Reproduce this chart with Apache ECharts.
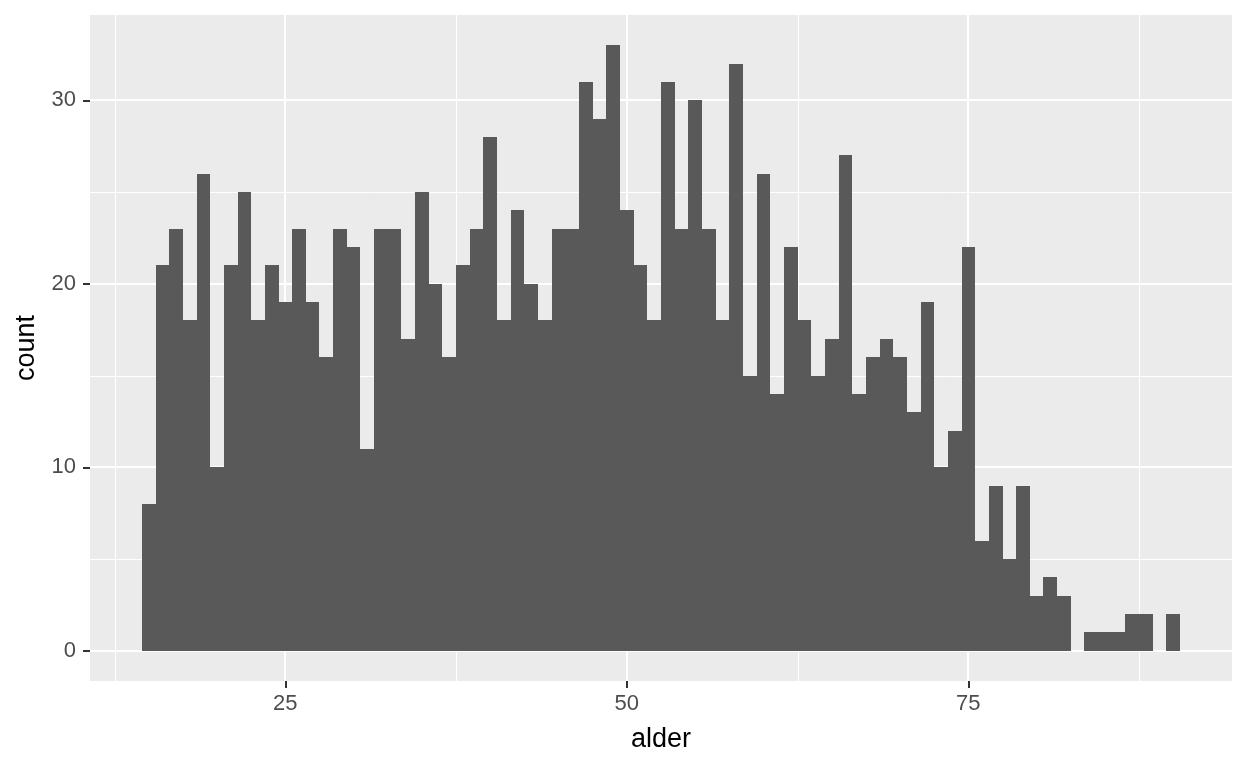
<!DOCTYPE html>
<html>
<head>
<meta charset="utf-8">
<script src="https://cdn.jsdelivr.net/npm/echarts@6/dist/echarts.min.js"></script>
<style>
  html, body { margin: 0; padding: 0; background: #ffffff; }
  #chart { width: 1248px; height: 768px; }
</style>
</head>
<body>
<div id="chart"></div>
<script>
// Bin centres (age, "alder") and counts
const ages = [15,16,17,18,19,20,21,22,23,24,25,26,27,28,29,30,31,32,33,34,35,36,37,38,39,40,
  41,42,43,44,45,46,47,48,49,50,51,52,53,54,55,56,57,58,59,60,61,62,63,64,65,66,67,68,69,70,
  71,72,73,74,75,76,77,78,79,80,81,82,83,84,85,86,87,88,89,90];
const counts = [8,21,23,18,26,10,21,25,18,21,19,23,19,16,23,22,11,23,23,17,25,20,16,21,23,28,
  18,24,20,18,23,23,31,29,33,24,21,18,31,23,30,23,18,32,15,26,14,22,18,15,17,27,14,16,17,16,
  13,19,10,12,22,6,9,5,9,3,4,3,0,1,1,1,2,2,0,2];
const binWidth = 1;

const xTicks = [25, 50, 75];
const xMinor = [12.5, 37.5, 62.5, 87.5];
const yTicks = [0, 10, 20, 30];
const yMinor = [5, 15, 25];

const xMin = 10.7, xMax = 94.3;
const yMin = -1.65, yMax = 34.65;

const chart = echarts.init(document.getElementById('chart'), null, { renderer: 'canvas' });

// grid line specs: [orientation (0 = vertical at x value, 1 = horizontal at y value), value, major flag]
const gridSpec = [];
xMinor.forEach(v => gridSpec.push([0, v, 0]));
yMinor.forEach(v => gridSpec.push([1, v, 0]));
xTicks.forEach(v => gridSpec.push([0, v, 1]));
yTicks.forEach(v => gridSpec.push([1, v, 1]));

const font = '"Liberation Sans", Arial, Helvetica, sans-serif';

chart.setOption({
  animation: false,
  backgroundColor: '#ffffff',
  grid: {
    left: 90, right: 16, top: 15, bottom: 87,
    show: true, backgroundColor: '#EBEBEB', borderWidth: 0,
    containLabel: false
  },
  xAxis: {
    type: 'value',
    min: xMin, max: xMax,
    name: 'alder',
    nameLocation: 'middle',
    nameGap: 45,
    nameTextStyle: { color: '#000000', fontSize: 27, fontFamily: font },
    axisLine: { show: false, onZero: false },
    axisTick: { show: true, length: 7, lineStyle: { color: '#333333', width: 2 }, customValues: xTicks },
    axisLabel: { show: true, color: '#4D4D4D', fontSize: 22, fontFamily: font, margin: 12, customValues: xTicks },
    splitLine: { show: false },
    minorSplitLine: { show: false }
  },
  yAxis: {
    type: 'value',
    min: yMin, max: yMax,
    name: 'count',
    nameLocation: 'middle',
    nameGap: 50,
    nameRotate: 90,
    nameTextStyle: { color: '#000000', fontSize: 27, fontFamily: font },
    axisLine: { show: false, onZero: false },
    axisTick: { show: true, length: 7, lineStyle: { color: '#333333', width: 2 }, customValues: yTicks },
    axisLabel: { show: true, color: '#4D4D4D', fontSize: 22, fontFamily: font, margin: 14, customValues: yTicks },
    splitLine: { show: false },
    minorSplitLine: { show: false }
  },
  series: [
    {
      type: 'custom',
      z: 1,
      silent: true,
      data: gridSpec,
      encode: { x: 1, y: 1 },
      renderItem: function (params, api) {
        const cs = params.coordSys;
        const orient = api.value(0), v = api.value(1), major = api.value(2);
        const w = major ? 2 : 1;
        if (orient === 0) {
          let px = Math.round(api.coord([v, 0])[0]);
          if (!major) px += 0.5;
          return { type: 'line', shape: { x1: px, y1: cs.y, x2: px, y2: cs.y + cs.height },
                   style: { stroke: '#ffffff', lineWidth: w } };
        } else {
          let py = Math.round(api.coord([xMin, v])[1]);
          if (!major) py += 0.5;
          return { type: 'line', shape: { x1: cs.x, y1: py, x2: cs.x + cs.width, y2: py },
                   style: { stroke: '#ffffff', lineWidth: w } };
        }
      }
    },
    {
      type: 'custom',
      z: 3,
      data: ages.map((a, i) => [a, counts[i]]),
      renderItem: function (params, api) {
        const x = api.value(0), c = api.value(1);
        if (!c) return null;
        const p0 = api.coord([x - binWidth / 2, 0]);
        const p1 = api.coord([x + binWidth / 2, c]);
        const x0 = Math.round(p0[0]), x1 = Math.round(p1[0]);
        const y0 = Math.round(p0[1]), y1 = Math.round(p1[1]);
        return {
          type: 'rect',
          shape: { x: x0, y: y1, width: x1 - x0, height: y0 - y1 },
          style: { fill: '#595959' }
        };
      }
    }
  ]
});
</script>
</body>
</html>
